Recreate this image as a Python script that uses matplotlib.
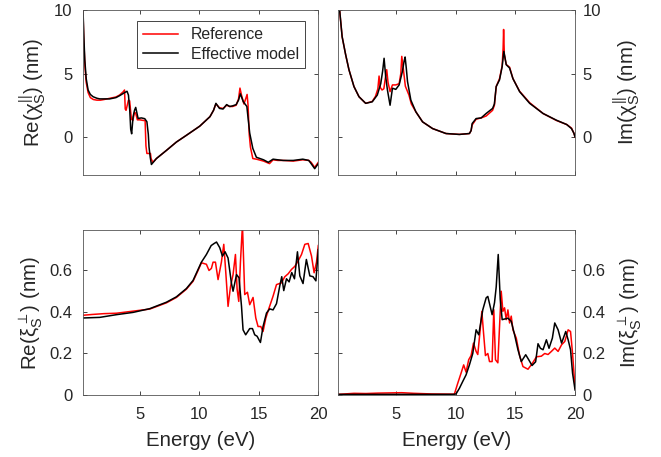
import matplotlib
matplotlib.use('Agg')
import matplotlib.pyplot as plt

plt.rcParams['font.family'] = ['Liberation Sans', 'DejaVu Sans']
plt.rcParams['mathtext.fontset'] = 'custom'
plt.rcParams['mathtext.rm'] = 'Liberation Sans'
plt.rcParams['mathtext.it'] = 'Liberation Sans'
plt.rcParams['mathtext.sf'] = 'Liberation Sans'
plt.rcParams['mathtext.fallback'] = 'stixsans'

# Re(chi_S ||) - top left
re_par_ref_x = [0.2, 0.3, 0.4, 0.5, 0.66, 0.85, 1.1, 1.4, 1.7, 2.0, 2.5, 3.0, 3.3, 3.6, 3.72,
                3.78, 3.85, 4.05, 4.15, 4.3, 4.42, 4.55, 4.65, 4.8, 5.0, 5.3, 5.45, 5.52, 5.6, 5.9,
                5.95, 6.1, 6.4, 7.24, 8.08, 8.92, 10.04, 10.9, 11.2, 11.4, 11.7, 12.0, 12.3, 12.56, 12.8,
                13.1, 13.3, 13.42, 13.55, 13.75, 13.9, 14.02, 14.1, 14.2, 14.3, 14.5, 14.8, 15.4, 15.9, 16.2,
                16.6, 17.05, 17.9, 18.7, 19.2, 19.4, 19.7, 20.0]
re_par_ref_y = [11, 7.5, 5.5, 4.3, 3.5, 3.1, 2.95, 2.9, 2.9, 2.95, 3.05, 3.15, 3.3, 3.55, 3.7,
                2.2, 2.1, 2.9, 2.85, 1.4, 1.3, 1.9, 1.9, 1.35, 1.35, 1.3, 1.3, -0.7, -1.3, -1.3,
                -1.7, -2.0, -1.7, -1.06, -0.4, 0.13, 0.85, 1.6, 2.1, 2.6, 2.3, 2.25, 2.5, 2.4, 2.4,
                2.5, 3.0, 3.85, 3.3, 2.6, 3.0, 3.35, 2.5, 0.2, -0.8, -1.7, -1.75, -1.9, -2.1, -1.8,
                -1.85, -1.85, -1.9, -1.8, -1.85, -2.0, -2.4, -2.0]
re_par_mod_x = [0.2, 0.3, 0.38, 0.5, 0.66, 0.85, 1.08, 1.4, 1.64, 2.0, 2.48, 3.0, 3.3, 3.74, 3.93,
                4.05, 4.16, 4.24, 4.32, 4.44, 4.56, 4.66, 4.76, 4.86, 5.14, 5.42, 5.6, 5.72, 5.78, 5.88,
                5.98, 6.4, 7.24, 8.08, 8.92, 10.04, 10.9, 11.2, 11.4, 11.7, 12.0, 12.3, 12.56, 12.8, 13.1,
                13.3, 13.45, 13.7, 14.0, 14.1, 14.24, 14.5, 14.8, 15.4, 15.8, 16.2, 16.6, 17.05, 17.9, 18.7,
                19.2, 19.4, 19.7, 20.0]
re_par_mod_y = [11, 8.0, 6.1, 4.6, 3.7, 3.35, 3.17, 3.05, 3.0, 3.0, 3.0, 3.1, 3.25, 3.5, 3.6,
                3.3, 2.1, 0.6, 0.25, 1.6, 2.1, 2.33, 1.9, 1.46, 1.5, 1.44, 1.2, 0.2, -0.8, -1.6,
                -2.17, -1.7, -1.06, -0.4, 0.13, 0.85, 1.6, 2.1, 2.65, 2.25, 2.2, 2.55, 2.4, 2.45, 2.55,
                2.9, 3.4, 2.78, 2.4, 1.5, 0.3, -0.9, -1.6, -1.8, -2.0, -1.75, -1.8, -1.85, -1.85, -1.75,
                -1.85, -2.1, -2.5, -2.1]

# Im(chi_S ||) - top right
im_par_ref_x = [0.2, 0.35, 0.51, 0.8, 1.08, 1.5, 1.92, 2.48, 3.03, 3.3, 3.5, 3.6, 3.7, 3.85, 4.0,
                4.12, 4.24, 4.35, 4.52, 4.72, 5.0, 5.28, 5.42, 5.5, 5.6, 5.8, 6.1, 6.3, 6.68, 7.24,
                8.08, 9.2, 10.32, 11.16, 11.3, 11.39, 11.72, 12.14, 12.56, 13.1, 13.25, 13.4, 13.68, 13.9, 13.98,
                14.02, 14.08, 14.24, 14.52, 14.8, 15.36, 16.2, 17.32, 18.44, 19.3, 19.7, 19.9, 20.0]
im_par_ref_y = [11, 9.5, 7.9, 6.5, 5.3, 3.97, 3.17, 2.65, 2.8, 3.2, 3.8, 4.8, 3.9, 3.7, 3.8,
                4.6, 5.3, 4.3, 3.57, 4.1, 4.1, 4.2, 5.0, 6.35, 5.6, 4.0, 3.3, 2.6, 1.98, 1.19,
                0.66, 0.27, 0.2, 0.27, 0.5, 0.95, 1.4, 1.5, 1.65, 2.1, 2.5, 3.97, 4.6, 5.6, 7.0,
                8.47, 6.5, 5.7, 5.5, 4.6, 3.6, 2.7, 1.85, 1.3, 0.98, 0.7, 0.3, 0.0]
im_par_mod_x = [0.2, 0.35, 0.51, 0.8, 1.08, 1.5, 1.92, 2.48, 3.03, 3.45, 3.74, 3.9, 4.02, 4.15, 4.3,
                4.52, 4.72, 5.0, 5.28, 5.55, 5.7, 5.78, 5.88, 5.98, 6.26, 6.68, 7.24, 8.08, 9.2, 10.32,
                11.16, 11.3, 11.39, 11.72, 12.14, 12.56, 13.1, 13.25, 13.4, 13.68, 13.9, 14.04, 14.24, 14.52, 14.8,
                15.36, 16.2, 17.32, 18.44, 19.3, 19.7, 19.9, 20.0]
im_par_mod_y = [11, 9.5, 7.9, 6.5, 5.3, 3.97, 3.17, 2.65, 2.77, 3.3, 4.2, 5.2, 6.2, 4.8, 3.7,
                2.5, 3.84, 3.75, 4.1, 5.16, 6.0, 6.3, 5.4, 4.37, 2.9, 1.98, 1.19, 0.66, 0.27, 0.2,
                0.27, 0.5, 1.06, 1.45, 1.5, 1.85, 2.25, 2.6, 3.97, 4.5, 5.55, 6.75, 5.7, 5.43, 4.6,
                3.57, 2.65, 1.85, 1.32, 0.98, 0.66, 0.3, 0.0]

# Re(xi_S perp) - bottom left
re_perp_ref_x = [0.2, 1.0, 2.0, 3.04, 4.44, 5.84, 7.24, 8.08, 8.92, 9.48, 9.9, 10.18, 10.6, 10.82, 11.02,
                 11.16, 11.36, 11.58, 11.86, 12.06, 12.23, 12.42, 12.62, 12.84, 13.04, 13.18, 13.32, 13.46, 13.63, 13.82,
                 14.05, 14.24, 14.52, 14.75, 14.94, 15.17, 15.36, 15.59, 15.87, 16.2, 16.49, 16.9, 17.19, 17.47, 17.75,
                 18.03, 18.3, 18.59, 18.87, 19.15, 19.43, 19.65, 19.85, 20.0]
re_perp_ref_y = [0.384, 0.388, 0.392, 0.394, 0.404, 0.414, 0.444, 0.47, 0.51, 0.548, 0.6, 0.637, 0.63, 0.6, 0.61,
                 0.64, 0.64, 0.556, 0.64, 0.726, 0.59, 0.427, 0.52, 0.58, 0.677, 0.51, 0.451, 0.64, 0.82, 0.484,
                 0.495, 0.435, 0.47, 0.371, 0.33, 0.33, 0.306, 0.37, 0.42, 0.476, 0.532, 0.54, 0.57, 0.584, 0.605,
                 0.62, 0.645, 0.677, 0.726, 0.73, 0.67, 0.589, 0.64, 0.72]
re_perp_mod_x = [0.2, 1.64, 3.04, 4.44, 5.84, 7.24, 8.08, 8.92, 9.48, 9.9, 10.18, 10.6, 11.0, 11.25, 11.45,
                 11.72, 11.95, 12.17, 12.42, 12.7, 12.84, 13.13, 13.34, 13.55, 13.68, 13.9, 14.24, 14.47, 14.66, 14.86,
                 15.14, 15.36, 15.65, 15.92, 16.2, 16.49, 16.76, 16.93, 17.1, 17.33, 17.55, 17.77, 18.0, 18.25, 18.45,
                 18.72, 19.0, 19.29, 19.56, 19.8, 20.0]
re_perp_mod_y = [0.371, 0.374, 0.387, 0.398, 0.416, 0.447, 0.473, 0.513, 0.552, 0.605, 0.64, 0.677, 0.72, 0.73, 0.737,
                 0.71, 0.669, 0.69, 0.66, 0.54, 0.50, 0.58, 0.565, 0.427, 0.314, 0.29, 0.32, 0.32, 0.29, 0.283,
                 0.253, 0.33, 0.395, 0.415, 0.41, 0.44, 0.524, 0.57, 0.503, 0.56, 0.545, 0.59, 0.56, 0.69, 0.574,
                 0.537, 0.653, 0.574, 0.57, 0.55, 0.70]

# Im(xi_S perp) - bottom right
im_perp_ref_x = [0.2, 1.5, 2.5, 3.5, 4.5, 5.5, 6.5, 8.0, 9.9, 10.18, 10.46, 10.68, 10.88, 11.1, 11.3,
                 11.5, 11.72, 11.86, 12.06, 12.2, 12.34, 12.5, 12.7, 12.84, 13.06, 13.2, 13.34, 13.54, 13.68, 13.82,
                 13.96, 14.1, 14.24, 14.38, 14.52, 14.66, 14.8, 15.08, 15.36, 15.64, 16.06, 16.43, 16.77, 17.18, 17.46,
                 17.74, 18.02, 18.3, 18.58, 18.87, 19.14, 19.42, 19.62, 19.79, 20.0]
im_perp_ref_y = [0.003, 0.008, 0.007, 0.009, 0.01, 0.011, 0.008, 0.005, 0.004, 0.056, 0.105, 0.145, 0.11, 0.17, 0.19,
                 0.25, 0.21, 0.195, 0.314, 0.403, 0.3, 0.19, 0.2, 0.161, 0.161, 0.411, 0.17, 0.155, 0.33, 0.5,
                 0.403, 0.42, 0.363, 0.41, 0.347, 0.38, 0.314, 0.274, 0.19, 0.137, 0.124, 0.153, 0.184, 0.187, 0.2,
                 0.195, 0.21, 0.226, 0.21, 0.242, 0.258, 0.314, 0.306, 0.2, 0.032]
im_perp_mod_x = [0.2, 5.0, 9.8, 10.04, 10.32, 10.6, 10.88, 11.16, 11.44, 11.72, 11.94, 12.28, 12.56, 12.7, 13.06,
                 13.26, 13.4, 13.57, 13.74, 13.9, 14.1, 14.38, 14.66, 14.94, 15.22, 15.5, 15.87, 16.12, 16.4, 16.7,
                 16.9, 17.1, 17.32, 17.6, 17.82, 18.1, 18.3, 18.58, 18.87, 19.22, 19.42, 19.62, 19.79, 20.0]
im_perp_mod_y = [0.003, 0.003, 0.003, 0.005, 0.032, 0.065, 0.097, 0.145, 0.2, 0.314, 0.29, 0.411, 0.468, 0.475, 0.387,
                 0.445, 0.52, 0.677, 0.46, 0.363, 0.366, 0.37, 0.355, 0.29, 0.218, 0.161, 0.194, 0.17, 0.142, 0.16,
                 0.247, 0.225, 0.218, 0.266, 0.225, 0.274, 0.347, 0.314, 0.25, 0.306, 0.266, 0.218, 0.105, 0.024]

x_ticks = [5, 10, 15, 20]
TXT = '#262626'
FS = 12
LABEL_FS = 14.8


def setup_axes(ax, ylim, yticks, ylabel, right=False, xlabels=False):
    ax.set_xlim(0.2, 20)
    ax.set_ylim(*ylim)
    ax.set_xticks(x_ticks)
    ax.set_yticks(yticks)
    ax.set_yticklabels([('%g' % t) for t in yticks])
    ax.tick_params(direction='in', length=3, width=0.6, top=True, right=True,
                   labelsize=FS, colors=TXT)
    ax.tick_params(axis='x', pad=9, labelbottom=xlabels)
    ax.tick_params(axis='y', pad=5.5 if right else 7.5,
                   labelleft=not right, labelright=right)
    for sp in ax.spines.values():
        sp.set_color('#555555')
        sp.set_linewidth(0.6)
    if right:
        ax.yaxis.set_label_position('right')
    ax.set_ylabel(ylabel, fontsize=LABEL_FS, color=TXT, labelpad=7 if right else 4)
    if xlabels:
        ax.set_xlabel('Energy (eV)', fontsize=LABEL_FS, color=TXT, labelpad=6)


fig = plt.figure(figsize=(6.61, 4.57), dpi=100)
ax1 = fig.add_axes([0.125, 0.617, 0.3565, 0.361])
ax2 = fig.add_axes([0.512, 0.617, 0.358, 0.361])
ax3 = fig.add_axes([0.125, 0.1357, 0.3565, 0.361])
ax4 = fig.add_axes([0.512, 0.1357, 0.358, 0.361])

lw = 1.1
ax1.plot(re_par_ref_x, re_par_ref_y, color='red', lw=lw, label='Reference')
ax1.plot(re_par_mod_x, re_par_mod_y, color='black', lw=lw, label='Effective model')
ax2.plot(im_par_ref_x, im_par_ref_y, color='red', lw=lw)
ax2.plot(im_par_mod_x, im_par_mod_y, color='black', lw=lw)
ax3.plot(re_perp_ref_x, re_perp_ref_y, color='red', lw=lw)
ax3.plot(re_perp_mod_x, re_perp_mod_y, color='black', lw=lw)
ax4.plot(im_perp_ref_x, im_perp_ref_y, color='red', lw=lw)
ax4.plot(im_perp_mod_x, im_perp_mod_y, color='black', lw=lw)

setup_axes(ax1, (-3, 10), [0, 5, 10], r'Re($\chi_S^{||}$) (nm)')
setup_axes(ax2, (-3, 10), [0, 5, 10], r'Im($\chi_S^{||}$) (nm)', right=True)
setup_axes(ax3, (0, 0.795), [0, 0.2, 0.4, 0.6], r'Re($\xi_S^{\perp}$) (nm)', xlabels=True)
setup_axes(ax4, (0, 0.795), [0, 0.2, 0.4, 0.6], r'Im($\xi_S^{\perp}$) (nm)', right=True, xlabels=True)

leg = ax1.legend(loc='upper right', bbox_to_anchor=(0.944, 0.935), borderaxespad=0,
                 fancybox=False, framealpha=1, edgecolor='#262626', fontsize=11.4,
                 handlelength=2.2, labelspacing=0.3, borderpad=0.4)
leg.get_frame().set_linewidth(0.6)
for t in leg.get_texts():
    t.set_color(TXT)

fig.savefig('out.png', dpi=100)
